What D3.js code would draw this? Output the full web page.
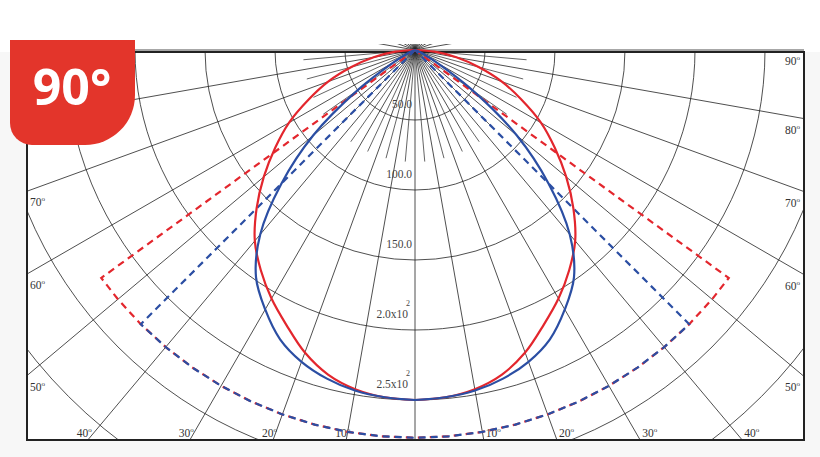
<!DOCTYPE html>
<html><head><meta charset="utf-8">
<script src="https://cdn.jsdelivr.net/npm/d3@7"></script>
<style>body{margin:0;background:#f7f7f7}</style></head>
<body><svg id="c" width="820" height="457"></svg>
<script>
// Intensity values (cd) per angle from nadir, symmetric on both sides
const angles = [0,5,10,15,20,25,30,35,40,45,50,55,60,65,70,75,80,85,90];
const redSolid = [250,249,246,240,230,217,205,192,178,160,141,122,104,84,66,47,30,14,0];
const blueSolid = [250,249,247,243,237,228,214,198,172,135,95,50,18,6,2,0,0,0,0];
const redDashAngles = [0,5,10,15,20,25,30,35,40,45,50,54,54];
const redDash = [277,277,277,277,277,277,277,277,277,277,277,277,0];
const blueDashAngles = [0,5,10,15,20,25,30,35,40,45,45];
const blueDash = [277,277,277,277,277,277,277,277,277,277,0];
const ringValues = [50,100,150,200,250,300,350,400];
const ringLabels = ["50.0","100.0","150.0","2.0x10","2.5x10"];
const ringSup = ["","","","2","2"];
const degLabels = [10,20,30,40,50,60,70,80,90];

const svg = d3.select("#c");
const cx = 415, cy = 50;
const L = 27, R = 804, T = 52, B = 440;
const r = d3.scaleLinear().domain([0,250]).range([0,350]);
const pt = (deg, v) => { const a = deg*Math.PI/180; return [cx + r(v)*Math.sin(a), cy + r(v)*Math.cos(a)]; };

svg.append("rect").attr("x",L).attr("y",T).attr("width",R-L).attr("height",B-T).attr("fill","#fff");
svg.append("rect").attr("x",0).attr("y",0).attr("width",820).attr("height",T).attr("fill","#fff");
const defs = svg.append("defs");
defs.append("clipPath").attr("id","clip").append("rect").attr("x",L).attr("y",44).attr("width",R-L).attr("height",B-44);
defs.append("clipPath").attr("id","clip2").append("rect").attr("x",L).attr("y",T).attr("width",R-L).attr("height",B-T);

const g = svg.append("g").attr("clip-path","url(#clip)");
d3.range(0,360,10).forEach(d => {
  const p = pt(d, 600);
  g.append("line").attr("x1",cx).attr("y1",cy).attr("x2",p[0]).attr("y2",p[1]).attr("stroke","#222").attr("stroke-width",0.8);
});
d3.range(5,90,10).concat(d3.range(-85,0,10)).forEach(d => {
  const p = pt(d, 80);
  g.append("line").attr("x1",cx).attr("y1",cy).attr("x2",p[0]).attr("y2",p[1]).attr("stroke","#222").attr("stroke-width",0.7);
});
const g2 = svg.append("g").attr("clip-path","url(#clip2)");
ringValues.forEach(v => {
  g2.append("circle").attr("cx",cx).attr("cy",cy).attr("r",r(v)).attr("fill","none").attr("stroke","#222").attr("stroke-width",0.8);
});
svg.append("rect").attr("x",L).attr("y",T).attr("width",R-L).attr("height",B-T).attr("fill","none").attr("stroke","#222").attr("stroke-width",2);

ringLabels.forEach((t,i) => {
  const y = cy + r(ringValues[i]) - 12;
  svg.append("text").attr("x",i<3?412:408).attr("y",y).attr("text-anchor","end")
    .attr("font-family","Liberation Serif, serif").attr("font-size",11.5).attr("fill","#444").text(t);
  if (ringSup[i]) svg.append("text").attr("x",406).attr("y",y-12).attr("font-family","Liberation Serif, serif")
    .attr("font-size",8).attr("fill","#444").text(ringSup[i]);
});
const lab = (x,y,anchor,t) => {
  const e = svg.append("text").attr("x",x).attr("y",y).attr("text-anchor",anchor)
    .attr("font-family","Liberation Serif, serif").attr("font-size",11.5).attr("fill","#333");
  e.append("tspan").text(t);
  e.append("tspan").attr("font-size",7).attr("dy",-5).text("o");
};
degLabels.forEach(d => {
  const a = d*Math.PI/180;
  const dyB = B - cy, dxS = cx - L;
  if (Math.tan(a)*dyB < dxS) {
    const off = Math.tan(a)*dyB;
    lab(cx-off+4, B-3, "end", d);
    lab(cx+off+2, B-3, "start", d);
  } else {
    const yl = cy + (d===90?0:(cx-L)/Math.tan(a));
    const yr = cy + (d===90?0:(R-cx)/Math.tan(a));
    if (d!==90) lab(L+3, yl+15, "start", d);
    lab(R-4, yr+15, "end", d);
  }
});

const line = d3.line().x(d=>d[0]).y(d=>d[1]).curve(d3.curveLinear);
const smooth = d3.line().x(d=>d[0]).y(d=>d[1]).curve(d3.curveCatmullRom);
const full = (angs, vals) => {
  const left = angs.map((a,i)=>pt(-a, vals[i])).reverse();
  const right = angs.map((a,i)=>pt(a, vals[i]));
  return left.concat(right);
};
const series = [
  {a:redDashAngles, v:redDash, c:"#e3262d", dash:"7,5", gen:line},
  {a:blueDashAngles, v:blueDash, c:"#2b4ea3", dash:"7,5", gen:line},
  {a:angles, v:redSolid, c:"#e3262d", dash:null, gen:smooth},
  {a:angles, v:blueSolid, c:"#2b4ea3", dash:null, gen:smooth}
];
series.forEach(s => {
  svg.append("path").attr("d", s.gen(full(s.a, s.v))).attr("fill","none").attr("stroke",s.c)
    .attr("stroke-width",2.2).attr("stroke-dasharray",s.dash);
});

svg.append("path").attr("d","M10,40 H135 V95 A50,50 0 0 1 85,145 H32 A22,22 0 0 1 10,123 Z").attr("fill","#e3352b");
svg.append("text").attr("x",72).attr("y",105).attr("text-anchor","middle").attr("font-family","Open Sans, sans-serif")
  .attr("font-weight","bold").attr("font-size",50).attr("fill","#fff").text("90°");
</script></body></html>
